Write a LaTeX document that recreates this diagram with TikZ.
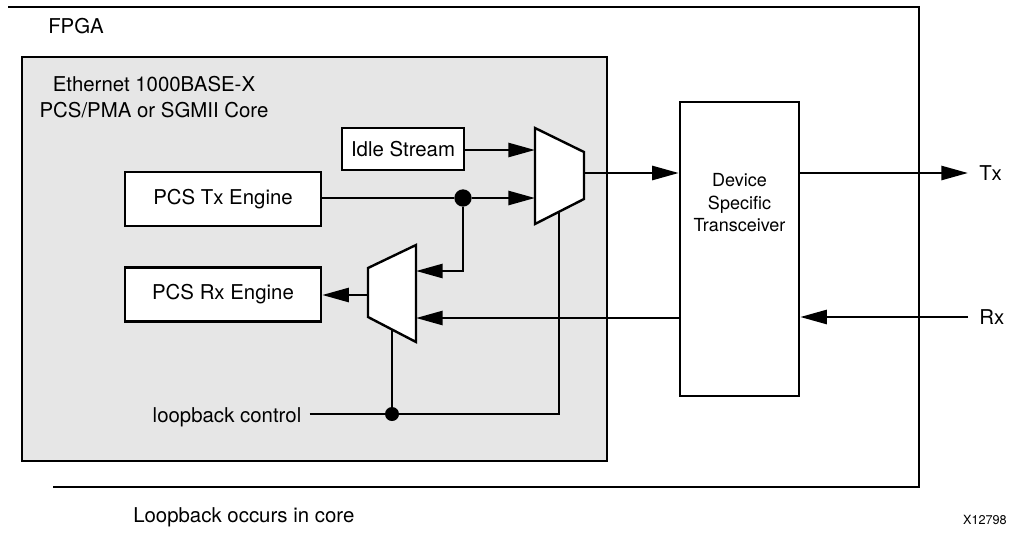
\documentclass[tikz,border=0pt]{standalone}
\usepackage{fontspec}
\setmainfont{TeX Gyre Heros}
\usepackage{tikz}
\usetikzlibrary{arrows.meta,positioning,calc}
\definecolor{coregray}{RGB}{230,230,230}

\begin{document}
\begin{tikzpicture}[x=0.75pt,y=-0.75pt,
    box/.style={draw,line width=1.8pt,fill=white,font=\fontsize{15.3}{18}\selectfont},
    bus/.style={line width=2pt},
    ctrl/.style={line width=0.9pt},
    arr/.style={bus,-{Triangle[length=20pt,width=10.5pt]}},
    joint/.style={circle,fill,inner sep=0pt,minimum size=#1},
    lbl/.style={font=\fontsize{15.3}{19.5}\selectfont,inner sep=0pt}]
    \useasboundingbox (0,0) rectangle (1011,533);
    % FPGA outline (open on the left)
    \draw[line width=2pt] (8,7) -- (919,7) -- (919,487) -- (53,487);
    \node[lbl,anchor=base west] (fpga) at (48,33) {FPGA};
    % core
    \draw[line width=1.8pt,fill=coregray] (22,57) rectangle (607,461);
    \node[lbl,align=center,anchor=north] (core) at (154,76) {Ethernet 1000BASE-X\\PCS/PMA or SGMII Core};
    \node[box,minimum width=91.5pt,minimum height=31.5pt] (idle) at (403,149) {Idle Stream};
    \node[box,minimum width=147pt,minimum height=40.5pt] (txeng) at (223,199) {PCS Tx Engine};
    \node[box,minimum width=147pt,minimum height=40.5pt] (rxeng) at (223,294.5) {PCS Rx Engine};
    % multiplexers
    \draw[line width=1.8pt,fill=white] (535,128) coordinate (txmuxa) -- (584,152) -- (584,199) -- (535,224) coordinate (txmuxb) -- cycle;
    \draw[line width=1.8pt,fill=white] (368,268) -- (416,245) coordinate (rxmuxa) -- (416,342) coordinate (rxmuxb) -- (368,317) -- cycle;
    % transceiver
    \node[draw,line width=1.8pt,fill=white,minimum width=89.25pt,minimum height=220.5pt] (xcvr) at (739.5,249) {};
    \node[align=center,anchor=north,inner sep=0pt,font=\fontsize{13.5}{17}\selectfont] (xcvrtxt) at (739.5,173) {Device\\Specific\\Transceiver};
    % datapath
    \node[joint=13pt] (split) at (463,198) {};
    \draw[arr] (idle.east |- 0,150) -- (txmuxa |- 0,150);
    \draw[bus] (txeng.east |- split) -- (split);
    \draw[arr] (split) -- (txmuxa |- split);
    \draw[arr] (split) |- (rxmuxa |- 0,271);
    \draw[arr] (584,173) -- (xcvr.west |- 0,173);
    \draw[arr] (368,295) -- (rxeng.east |- 0,295);
    \draw[arr] (xcvr.west |- 0,318) -- (rxmuxa |- 0,318);
    \coordinate (txout) at (968,173);
    \coordinate (rxin) at (968,317);
    \draw[arr] (xcvr.east |- txout) -- (txout);
    \draw[arr] (rxin) -- (xcvr.east |- rxin);
    \node[lbl,anchor=west] (tx) at (979,173) {Tx};
    \node[lbl,anchor=west] (rx) at (979,317) {Rx};
    % loopback control
    \node[lbl,anchor=base] (lbctl) at (227,422) {loopback control};
    \node[joint=10.5pt] (lbdot) at (392,414) {};
    \draw[ctrl] (lbctl.east |- lbdot) ++(8,0) -- (lbdot) -- (559,414) -- (559,211.8);
    \draw[ctrl] (lbdot) -- (392,329.5);
    % captions
    \node[lbl,anchor=west] (caption) at (133,517) {Loopback occurs in core};
    \node[anchor=east,inner sep=0pt,font=\fontsize{9.5}{11}\selectfont] (figid) at (1007,520) {X12798};
\end{tikzpicture}
\end{document}
